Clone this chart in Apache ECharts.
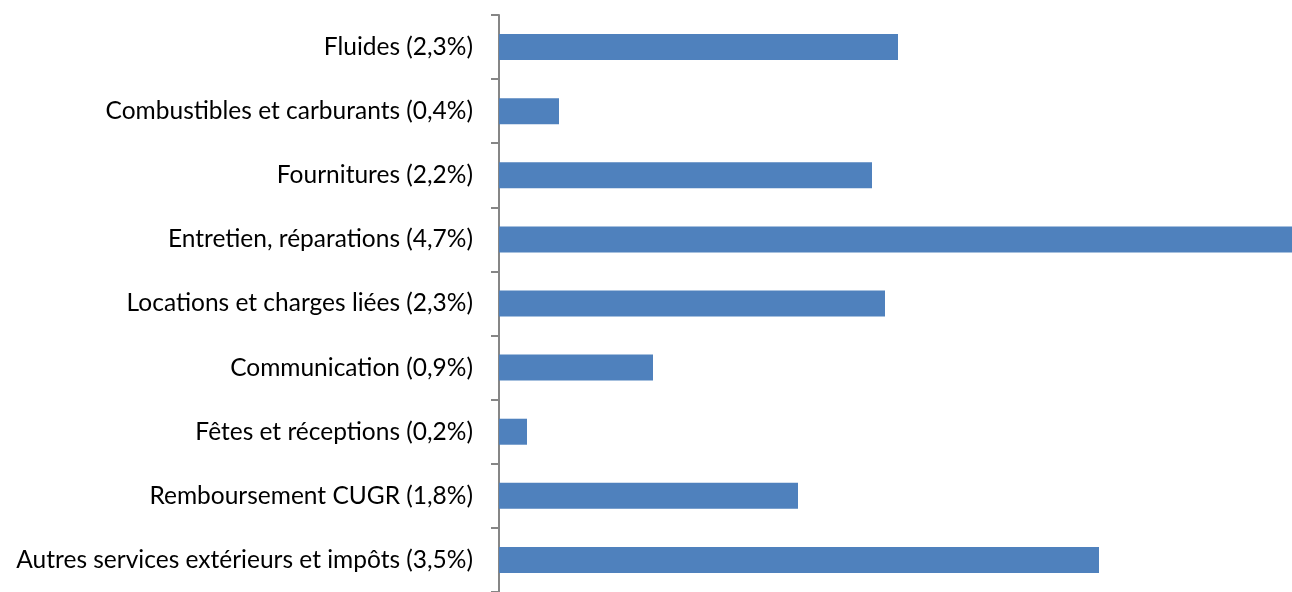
<!DOCTYPE html>
<html>
<head>
<meta charset="utf-8">
<script src="https://cdn.jsdelivr.net/npm/echarts@6/dist/echarts.min.js"></script>
<style>
  html, body { margin: 0; padding: 0; background: #fff; }
  #chart { width: 1292px; height: 592px; }
</style>
</head>
<body>
<div id="chart"></div>
<script>
const categories = [
  'Fluides (2,3%)',
  'Combustibles et carburants (0,4%)',
  'Fournitures (2,2%)',
  'Entretien, réparations (4,7%)',
  'Locations et charges liées (2,3%)',
  'Communication (0,9%)',
  'Fêtes et réceptions (0,2%)',
  'Remboursement CUGR (1,8%)',
  'Autres services extérieurs et impôts (3,5%)'
]
// bar lengths (relative units)
const values = [399, 60, 373, 793, 386, 154, 28, 299, 600]

const chart = echarts.init(document.getElementById('chart'))

chart.setOption({
  animation: false,
  grid: { left: 499, right: 0, top: 15, bottom: -3 },
  xAxis: {
    type: 'value',
    min: 0,
    max: 793,
    show: false
  },
  yAxis: {
    type: 'category',
    inverse: true,
    data: categories,
    axisLine: { show: true, lineStyle: { color: '#868686', width: 2 } },
    axisTick: { show: true, length: 8, lineStyle: { color: '#868686', width: 2 } },
    axisLabel: { margin: 26, fontSize: 24.5, color: '#000', fontFamily: 'Lato, sans-serif' }
  },
  series: [
    {
      type: 'bar',
      data: values,
      barWidth: 26,
      itemStyle: { color: '#4F81BD' }
    }
  ]
})
</script>
</body>
</html>
